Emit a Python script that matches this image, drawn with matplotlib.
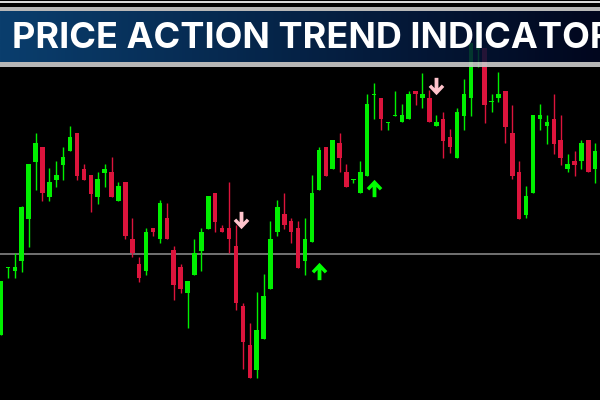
import numpy as np
import matplotlib.pyplot as plt
from matplotlib.path import Path
from matplotlib.patches import Rectangle

# candle prices (chart units, higher = up)
opens = [65, 132, 129, 139, 181, 238, 253, 203, 220, 235, 249, 267, 231, 225, 203, 227, 228, 199,
         218, 161, 136, 129, 172, 161, 182, 150, 133, 107, 125, 149, 171, 207, 172, 172, 154, 94,
         55, 30, 61, 111, 168, 186, 179, 172, 139, 158, 210, 253, 231, 257, 228, 220, 207, 224,
         305, 302, 277, 284, 278, 281, 309, 302, 302, 274, 281, 263, 242, 284, 302, 350, 352, 298,
         302, 309, 267, 228, 185, 207, 281, 274, 281, 260, 231, 239, 239, 260, 231]
highs = [119, 133, 147, 194, 236, 267, 253, 232, 239, 253, 274, 267, 236, 225, 228, 236, 243, 218,
         218, 182, 143, 172, 172, 200, 197, 154, 136, 119, 161, 172, 204, 207, 175, 218, 175, 97,
         77, 108, 126, 179, 200, 207, 182, 179, 182, 225, 253, 253, 260, 267, 236, 221, 239, 306,
         317, 302, 278, 309, 296, 309, 309, 327, 310, 285, 288, 271, 292, 321, 357, 380, 352, 306,
         328, 309, 295, 239, 214, 285, 296, 285, 306, 285, 246, 249, 260, 260, 257]
lows = [65, 122, 122, 128, 153, 210, 199, 199, 213, 220, 249, 220, 220, 188, 196, 213, 203, 199,
        161, 143, 118, 125, 164, 157, 161, 100, 107, 72, 125, 129, 171, 168, 168, 147, 90, 31,
        22, 22, 61, 111, 164, 171, 157, 132, 125, 158, 210, 224, 231, 228, 213, 217, 207, 224,
        281, 270, 270, 284, 278, 281, 295, 292, 278, 274, 242, 247, 242, 270, 284, 333, 277, 288,
        298, 257, 221, 181, 182, 207, 270, 256, 246, 235, 228, 224, 231, 228, 217]
closes = [119, 133, 133, 193, 236, 257, 207, 218, 225, 243, 263, 224, 220, 206, 221, 231, 203, 214,
          164, 147, 122, 168, 168, 197, 161, 115, 111, 119, 147, 168, 204, 178, 168, 161, 97, 58,
          22, 70, 104, 161, 193, 175, 168, 132, 161, 207, 250, 224, 260, 242, 213, 221, 228, 296,
          306, 281, 278, 285, 285, 306, 306, 306, 278, 278, 259, 253, 288, 306, 357, 370, 295, 299,
          306, 273, 224, 181, 204, 285, 285, 278, 256, 242, 236, 235, 257, 228, 249]

level = 146.5

down_x = [34.7, 62.9]
down_y = [180.5, 314.5]
up_x = [46.0, 54.0]
up_y = [129.5, 212.0]

title = 'PRICE ACTION TREND INDICATOR'

bull = '#00f000'
bear = '#dc143c'

fig = plt.figure(figsize=(6, 4), dpi=100, facecolor='black')
ax = fig.add_axes([0, 0, 1, 1])
ax.set_facecolor('black')

o = np.array(opens, float)
c = np.array(closes, float)
idx = np.arange(len(o))
cols = [bull if cc >= oo else bear for oo, cc in zip(o, c)]

ax.axhline(level, color='#7a7a7a', lw=1.3, zorder=1)
ax.vlines(idx, lows, highs, colors=cols, lw=1.0, zorder=2)
ax.bar(idx, np.maximum(np.abs(c - o), 1.2), bottom=np.minimum(o, c), width=0.65,
       color=cols, linewidth=0, zorder=3)

# chevron arrow marker
v = [(0, 1), (0.9, 0.05), (0.61, -0.225), (0.22, 0.187), (0.22, -1), (-0.22, -1),
     (-0.22, 0.187), (-0.61, -0.225), (-0.9, 0.05), (0, 1)]
up_arrow = Path(v, closed=True)
down_arrow = Path([(a, -b) for a, b in v], closed=True)
ax.plot(up_x, up_y, ls='none', marker=up_arrow, ms=12.5, color='#00ff00', mew=0, zorder=4)
ax.plot(down_x, down_y, ls='none', marker=down_arrow, ms=12.5, color='#ffc4cc', mew=0, zorder=4)

ax.set_xlim(-0.145, 86.69)
ax.set_ylim(0, 400)
ax.axis('off')

# banner
bax = fig.add_axes([0, 1 - 62 / 400, 1, 51 / 400])
t = np.linspace(0, 1, 256)
left = np.array([12, 74, 130]) / 255
right = np.array([2, 8, 36]) / 255
grad = (left[None, :] * (1 - t[:, None]) + right[None, :] * t[:, None])[None, :, :]
bax.imshow(grad, aspect='auto', extent=[0, 1, 0, 1], alpha=0.85)
bax.axis('off')

fig.add_artist(Rectangle((0, 1 - 2.7 / 400), 1, 1.7 / 400, transform=fig.transFigure,
                         color='#d8d8d8', lw=0))
fig.add_artist(Rectangle((0, 1 - 11 / 400), 1, 4.3 / 400, transform=fig.transFigure,
                         color='#c8c8c8', lw=0, alpha=0.92))
fig.add_artist(Rectangle((0, 1 - 66.5 / 400), 1, 4.5 / 400, transform=fig.transFigure,
                         color='#c8c8c8', lw=0, alpha=0.92))

fig.text(12 / 600, 1 - 48.5 / 400, title, color='white', fontsize=26, fontweight='bold',
         family='Inter', ha='left', va='baseline')

fig.savefig('out.png', dpi=100, facecolor='black')
